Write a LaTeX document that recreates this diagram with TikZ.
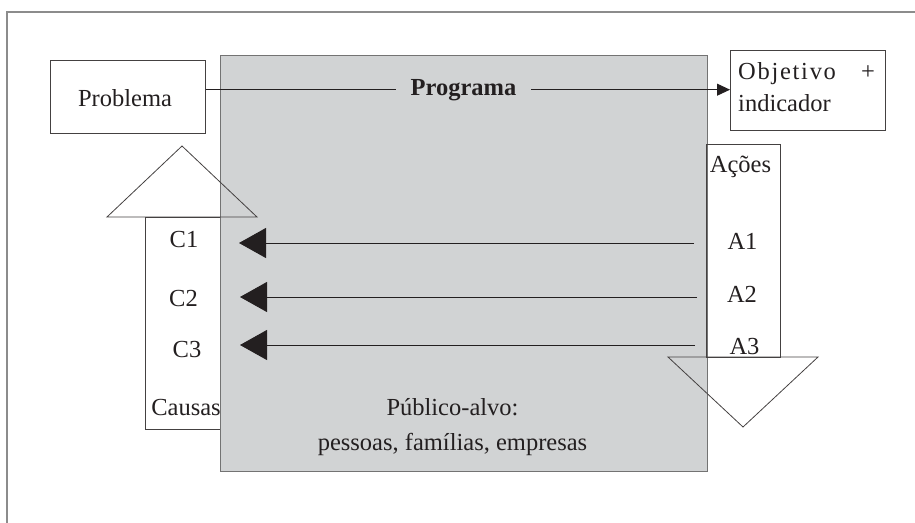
\documentclass[tikz,border=0pt]{standalone}
\usepackage{fontspec}
\setmainfont{Liberation Serif}
\usetikzlibrary{arrows.meta}
\definecolor{boxgray}{RGB}{209,211,212}
\definecolor{framegray}{RGB}{140,140,140}
\definecolor{edgegray}{RGB}{115,115,115}
\definecolor{ink}{RGB}{35,31,32}
\begin{document}
\begin{tikzpicture}[x=1pt,y=-1pt,
  txt/.style={font=\fontsize{24.5}{29}\selectfont, text=ink, inner sep=0pt, anchor=base},
  plainbox/.style={draw=ink!85, line width=0.9pt, inner sep=0pt, anchor=north west},
  thinline/.style={draw=ink, line width=0.9pt},
  bigarr/.style={thinline, -{Triangle[length=27pt,width=30pt]}},
  smallarr/.style={thinline, -{Triangle[length=13pt,width=12pt]}},
  hollowtri/.style={draw=ink!85, line width=0.8pt}
]
\useasboundingbox (0,0) rectangle (915,522);
% outer frame
\draw[framegray, line width=1.8pt] (7,540) -- (7,12) -- (930,12);
% boxes
\node[plainbox, minimum width=75pt, minimum height=212pt] (causasbox) at (145,217) {};
\node[plainbox, draw=edgegray, line width=1.4pt, fill=boxgray, minimum width=487pt, minimum height=416pt] (progbox) at (220,55) {};
\node[plainbox, minimum width=155pt, minimum height=73pt] (prob) at (50,60) {};
\node[plainbox, minimum width=155pt, minimum height=80pt] (obj) at (730,50) {};
\node[plainbox, minimum width=74pt, minimum height=213pt] (acoesbox) at (706,144) {};
% triangles
\draw[hollowtri] (107,217) -- (257,217) -- (182,146) -- cycle;
\draw[hollowtri] (668,357) -- (818,357) -- (743,427) -- cycle;
% texts
\node[txt] (probtxt) at (125,106) {Problema};
\node[txt, font=\fontsize{24.5}{29}\selectfont\bfseries, minimum width=135pt] (progtxt) at (463.5,95) {Programa};
\node[txt, anchor=base west] (objtxt) at (738,79) {\addfontfeature{LetterSpace=7}Objetivo};
\node[txt] (plus) at (868,79) {+};
\node[txt, anchor=base west] (indtxt) at (738,111) {indicador};
\node[txt] (acoes) at (740.5,172) {Ações};
\node[txt] (A1) at (742.5,249) {A1};
\node[txt] (A2) at (742,302) {A2};
\node[txt] (A3) at (744.5,354) {A3};
\node[txt] (C1) at (184,247) {C1};
\node[txt] (C2) at (183.5,306) {C2};
\node[txt] (C3) at (187,357) {C3};
\node[txt] (causas) at (186,415) {Causas};
\node[txt] (publico) at (452.5,415) {Público-alvo:};
\node[txt] (pessoas) at (452.5,450) {pessoas, famílias, empresas};
% top connector
\draw[thinline] (prob.east |- progtxt.west) -- (progtxt.west);
\draw[smallarr] (progtxt.east) -- (progtxt.east -| obj.west);
% action -> cause arrows
\coordinate (a1s) at (694,243);
\coordinate (a2s) at (697,297);
\coordinate (a3s) at (695,345);
\coordinate (c1e) at (239,243);
\coordinate (c2e) at (240,297);
\coordinate (c3e) at (240,345);
\draw[bigarr] (a1s) -- (c1e);
\draw[bigarr] (a2s) -- (c2e);
\draw[bigarr] (a3s) -- (c3e);
\end{tikzpicture}
\end{document}
